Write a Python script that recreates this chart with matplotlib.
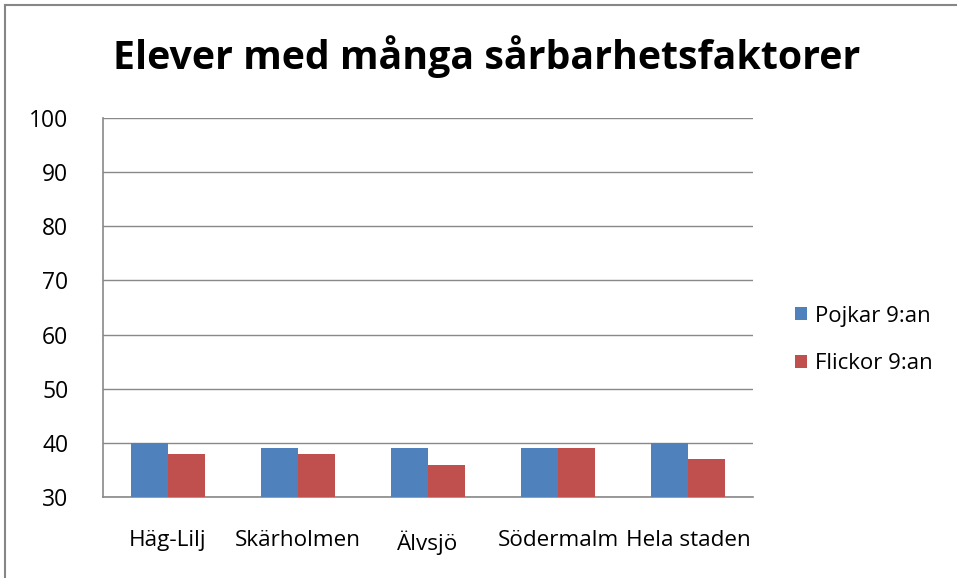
import matplotlib
matplotlib.use("Agg")
import matplotlib.pyplot as plt
import numpy as np
from matplotlib.lines import Line2D

categories = ["Häg-Lilj", "Skärholmen", "Älvsjö", "Södermalm", "Hela staden"]
pojkar = [40, 39, 39, 39, 40]
flickor = [38, 38, 36, 39, 37]
series_names = ["Pojkar 9:an", "Flickor 9:an"]
yticks = [30, 40, 50, 60, 70, 80, 90, 100]
title = "Elever med många sårbarhetsfaktorer"

plt.rcParams['font.family'] = ['Open Sans', 'DejaVu Sans']

fig = plt.figure(figsize=(9.57, 5.78), dpi=100)
ax = fig.add_axes([103/957, 1-497/578, 650/957, 379/578])

x = np.arange(len(categories))
w = 0.285
b1 = ax.bar(x - w/2, pojkar, w, color="#4F81BD", label=series_names[0], zorder=3)
b2 = ax.bar(x + w/2, flickor, w, color="#C0504D", label=series_names[1], zorder=3)

ax.set_ylim(30, 100)
ax.set_xlim(-0.5, len(categories) - 0.5)
ax.set_yticks(yticks)
ax.set_xticks(x)
ax.set_xticklabels(categories, fontsize=16.2)
ax.tick_params(axis='y', labelsize=16.5, length=0, pad=25)
ax.tick_params(axis='x', length=0, pad=24)
ax.yaxis.grid(True, color="#898989", linewidth=1.0, zorder=0)
for s in ["top", "right"]:
    ax.spines[s].set_visible(False)
for s in ["left", "bottom"]:
    ax.spines[s].set_color("#898989")
    ax.spines[s].set_linewidth(1.2)

fig.text(487/957, 1-57/578, title, ha="center", va="center", fontsize=28.3, fontweight="bold")

leg = fig.legend(handles=[b1, b2], labels=series_names, loc="center left",
                 bbox_to_anchor=(795/957, 1-340/578), frameon=False, fontsize=16,
                 handlelength=0.55, handleheight=0.55, handletextpad=0.35, labelspacing=1.2,
                 borderpad=0, borderaxespad=0)

fig.add_artist(Line2D([5/957, 5/957], [0, 1-5/578], transform=fig.transFigure,
                      color="#868686", linewidth=1.5))
fig.add_artist(Line2D([5/957, 1], [1-5/578, 1-5/578], transform=fig.transFigure,
                      color="#868686", linewidth=1.5))

fig.savefig("out.png", dpi=100)
